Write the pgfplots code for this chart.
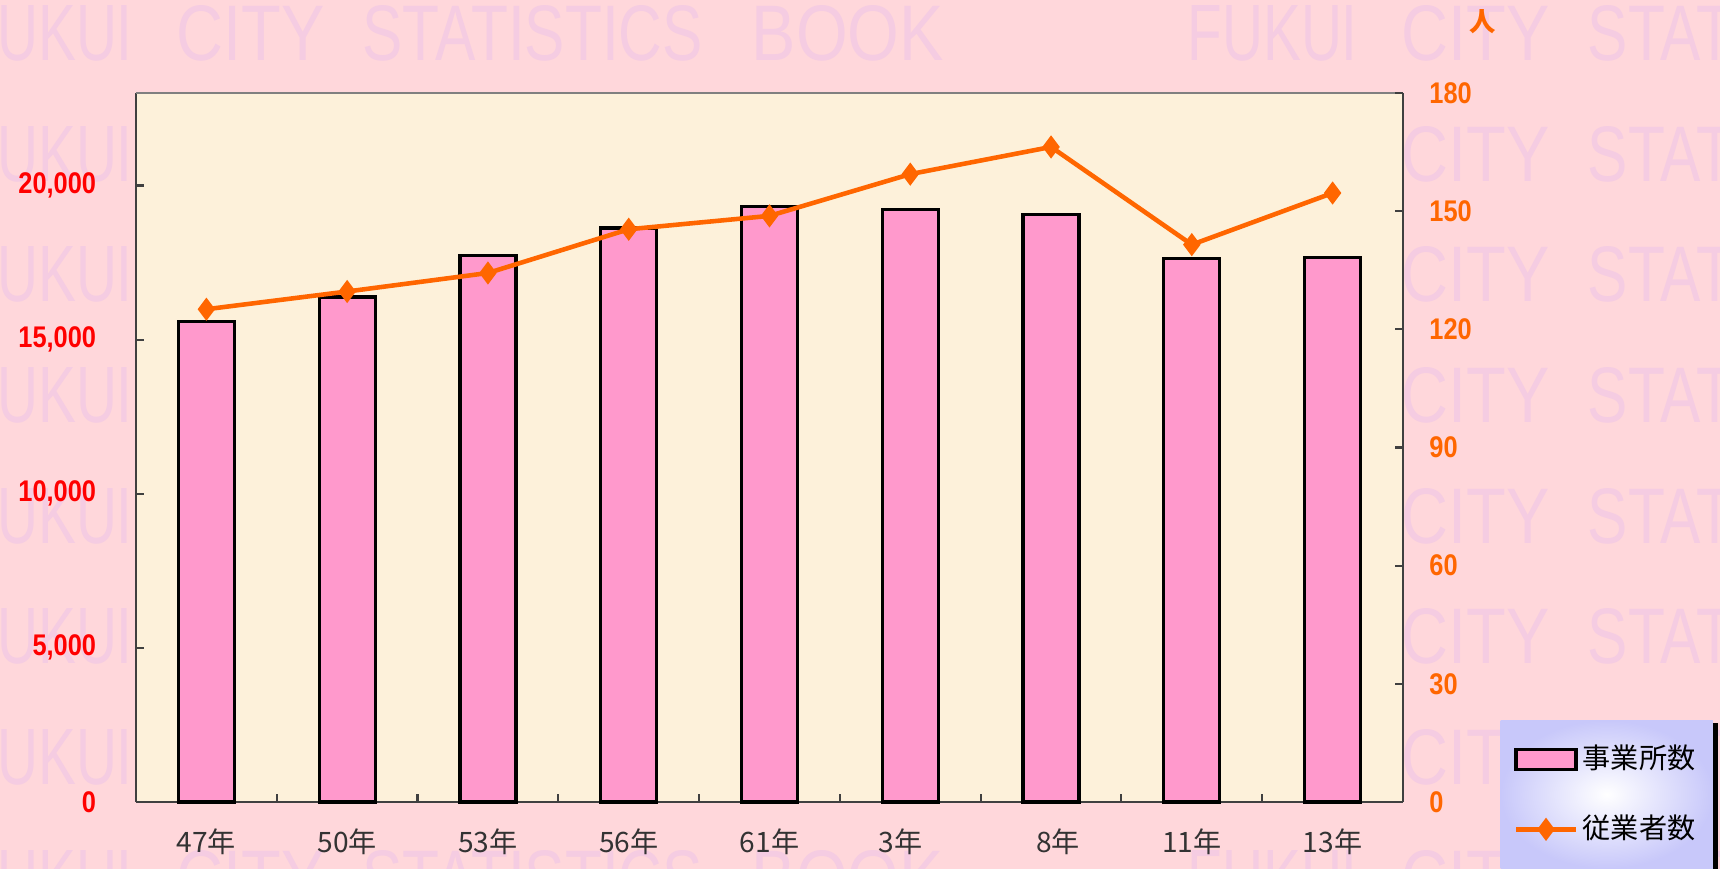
\documentclass[border=0pt]{standalone}
\usepackage{pgfplots}
\pgfplotsset{compat=1.18}
\usepackage{fontspec}
\setmainfont{Noto Sans CJK JP}
\newfontfamily\wmfont{Liberation Sans}
\newfontfamily\numfont[FakeStretch=0.85]{Liberation Sans}
\definecolor{bgpink}{HTML}{FFD7DB}
\definecolor{cream}{HTML}{FDF1DA}
\definecolor{barpink}{HTML}{FF99CC}
\definecolor{lineorange}{HTML}{FF6600}
\definecolor{wmcol}{HTML}{F5CCE2}
\definecolor{lav}{HTML}{C8C8FA}
\definecolor{labgray}{HTML}{333333}

\pgfplotstableread{
x bars
0 15600
1 16380
2 17730
3 18620
4 19330
5 19230
6 19050
7 17620
8 17660
}\barsdata
\pgfplotstableread{
x emp
0 125.1
1 129.6
2 134.3
3 145.4
4 148.8
5 159.4
6 166.3
7 141.5
8 154.6
}\empdata

\begin{document}
\begin{tikzpicture}
\useasboundingbox (0,0) rectangle (172mm,86.9mm);
\begin{scope}
\clip (0,0) rectangle (172mm,86.9mm);
\fill[bgpink] (0,0) rectangle (172mm,86.9mm);
\tikzset{wm/.style={anchor=west, inner sep=0pt, text=wmcol, font=\wmfont}}
% full rows (top and bottom)
\foreach \yy in {83.6,-0.9}{
  \foreach \xo in {0,122.5}{
    \begin{scope}[xshift=\xo mm]
      \node[wm] at (-3.8mm,\yy mm) {\resizebox{17mm}{5.5mm}{FUKUI}};
      \node[wm] at (17.6mm,\yy mm) {\resizebox{14.8mm}{5.5mm}{CITY}};
      \node[wm] at (36.2mm,\yy mm) {\resizebox{34mm}{5.5mm}{STATISTICS}};
      \node[wm] at (75.1mm,\yy mm) {\resizebox{19.2mm}{5.5mm}{BOOK}};
    \end{scope}
  }
}
% side fragments on middle rows
\foreach \yy in {71.5,59.5,47.4,35.3,23.3,11.2}{
  \node[wm] at (-3.8mm,\yy mm) {\resizebox{17mm}{5.5mm}{FUKUI}};
  \node[wm] at (140.1mm,\yy mm) {\resizebox{14.8mm}{5.5mm}{CITY}};
  \node[wm] at (158.7mm,\yy mm) {\resizebox{34mm}{5.5mm}{STATISTICS}};
}
\end{scope}

\begin{axis}[
  at={(13.6mm,6.7mm)}, anchor=south west,
  scale only axis, width=126.7mm, height=70.9mm,
  xmin=-0.5, xmax=8.5, ymin=0, ymax=23000,
  axis background/.style={fill=cream},
  axis x line*=bottom, axis y line*=left,
  axis line style={draw=black!75, line width=0.7pt},
  xtick={0,...,8},
  xticklabels={47年,50年,53年,56年,61年,\hspace{-2mm}3年,\hspace{1.4mm}8年,11年,13年},
  xtick style={draw=none},
  minor xtick={0.5,1.5,...,7.5},
  minor x tick style={draw=black!75, line width=0.6pt},
  minor tick length=0.8mm,
  major tick length=0.8mm,
  tick align=inside,
  xticklabel style={text=labgray, font=\fontsize{8}{9}\selectfont, yshift=-1.4mm},
  ytick={0,5000,10000,15000,20000},
  ytick style={draw=black!75, line width=0.6pt},
  yticklabel style={text=red, font=\numfont\bfseries\fontsize{8.5}{9}\selectfont, xshift=-2.75mm},
  scaled y ticks=false,
  /pgf/number format/1000 sep={,},
  /pgf/number format/assume math mode=true,
  clip=false,
  extra description/.code={\draw[black!50, line width=0.7pt] (rel axis cs:0,1) -- (rel axis cs:1,1);},
]
\addplot[ybar, bar width=5.6mm, bar shift=0pt, fill=barpink, draw=black, line width=0.9pt] table[x=x, y=bars] {\barsdata};
\end{axis}

\begin{axis}[
  at={(13.6mm,6.7mm)}, anchor=south west,
  scale only axis, width=126.7mm, height=70.9mm,
  xmin=-0.5, xmax=8.5, ymin=0, ymax=180,
  axis x line=none, axis y line*=right,
  axis line style={draw=black!75, line width=0.7pt},
  ytick={0,30,...,180},
  ytick style={draw=black!75, line width=0.6pt},
  major tick length=0.8mm,
  tick align=inside,
  yticklabel style={text=lineorange, font=\numfont\bfseries\fontsize{8.5}{9}\selectfont, xshift=1.4mm},
  /pgf/number format/assume math mode=true,
  clip=false,
  legend cell align=left,
  legend style={at={(1.0766,-0.0945)}, anchor=south west,
    draw=none, inner color=white, outer color=lav,
    font=\fontsize{8}{9}\selectfont,
    inner xsep=1.3mm, inner ysep=2.0mm, row sep=3.2mm,
    nodes={inner sep=0.45mm}},
]
\addlegendimage{area legend, fill=barpink, draw=black, line width=0.9pt}
\addlegendentry{事業所数}
\addplot[lineorange, line width=1.3pt, mark=diamond*, mark size=2.9pt, mark options={fill=lineorange, draw=lineorange, line width=0.5pt}] table[x=x, y=emp] {\empdata};
\addlegendentry{従業者数}
\end{axis}

\fill[black] (171.3mm,0) rectangle (171.75mm,14.6mm);
\node[anchor=center, text=lineorange, font=\bfseries\fontsize{7.5}{8}\selectfont, inner sep=0pt] at (148.3mm,84.7mm) {人};
\end{tikzpicture}
\end{document}
